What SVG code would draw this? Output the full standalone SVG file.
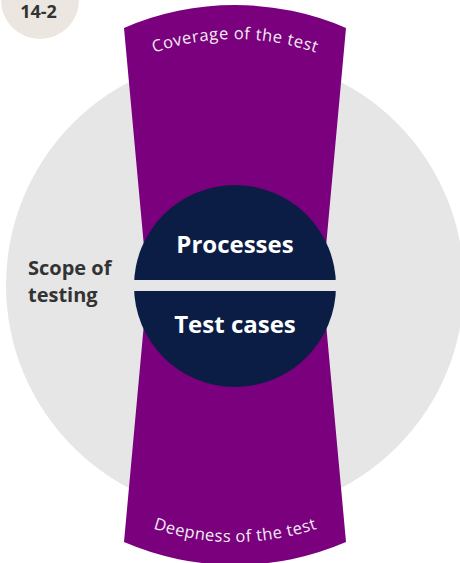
<svg xmlns="http://www.w3.org/2000/svg" width="460" height="563" viewBox="0 0 460 563">
<defs>
<style>
.bold{font-family:"Open Sans","Liberation Sans",sans-serif;font-weight:700}
.arc{font-family:"Open Sans","Liberation Sans",sans-serif;font-size:16.5px;fill:#f2eef2}
</style>
<path id="topArc" d="M -11,285 A 246,246 0 0 1 481,285" fill="none"/>
<path id="botArc" d="M -22,285 A 257,257 0 0 0 492,285" fill="none"/>
</defs>
<rect width="460" height="563" fill="#ffffff"/>
<g id="badge">
<circle cx="40" cy="0" r="39" fill="#ebe6e0"/>
<text class="bold" x="38.5" y="17.5" font-size="18" fill="#333333" text-anchor="middle">14-2</text>
</g>
<g id="scope">
<circle cx="235" cy="285" r="229" fill="#e6e6e6"/>
<text class="bold" font-size="20" fill="#333333"><tspan x="28" y="275">Scope of</tspan><tspan x="28" y="302">testing</tspan></text>
</g>
<g id="band">
<path d="M 124,28 A 280,280 0 0 1 346,28 L 322.5,285 L 346,542 A 280,280 0 0 1 124,542 L 147.5,285 Z" fill="#7a007e"/>
<text class="arc"><textPath href="#topArc" startOffset="50%" text-anchor="middle" textLength="165" lengthAdjust="spacing">Coverage of the test</textPath></text>
<text class="arc"><textPath href="#botArc" startOffset="50%" text-anchor="middle" textLength="167" lengthAdjust="spacing">Deepness of the test</textPath></text>
</g>
<g id="core">
<circle cx="235" cy="286" r="101" fill="#0b1d45"/>
<rect x="133" y="280" width="204" height="11" fill="#e6e6e6"/>
<text class="bold" x="235" y="253" font-size="24" fill="#ffffff" text-anchor="middle">Processes</text>
<text class="bold" x="235" y="333" font-size="24" fill="#ffffff" text-anchor="middle">Test cases</text>
</g>
</svg>
